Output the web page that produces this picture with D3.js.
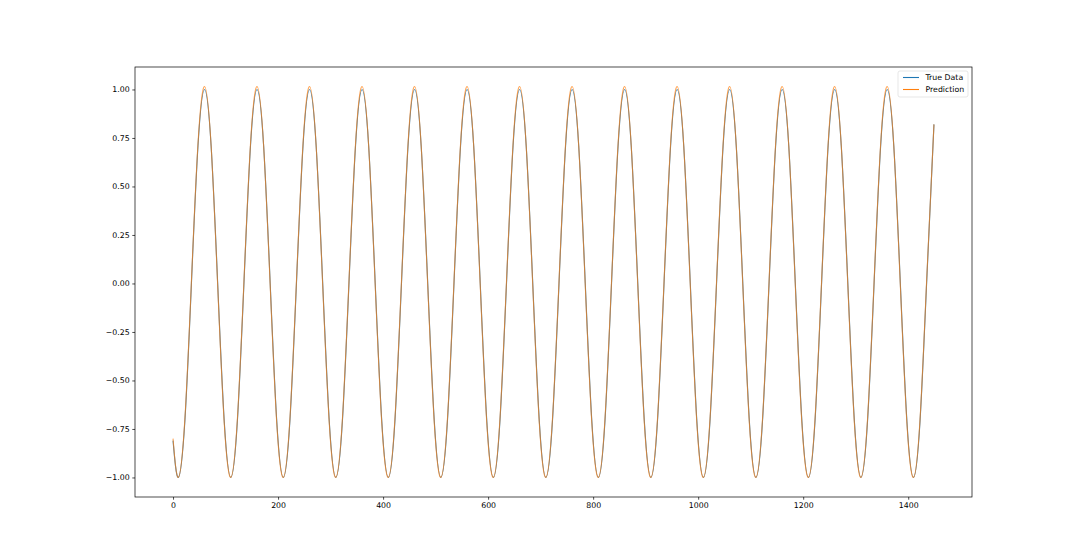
<!DOCTYPE html>
<html>
<head>
<meta charset="utf-8">
<script src="https://cdn.jsdelivr.net/npm/d3@7"></script>
<style>
  html, body { margin: 0; padding: 0; background: #fff; }
  svg { display: block; }
  text { font-family: "DejaVu Sans", sans-serif; }
</style>
</head>
<body>
<svg id="chart" width="1080" height="559"></svg>
<script>
// Time steps (x): start, then troughs / zero crossings / peaks and the points between them
const steps = [
  0,
  10, 22.5, 35, 47.5, 60, 72.5, 85, 97.5,
  110, 122.5, 135, 147.5, 160, 172.5, 185, 197.5,
  210, 222.5, 235, 247.5, 260, 272.5, 285, 297.5,
  310, 322.5, 335, 347.5, 360, 372.5, 385, 397.5,
  410, 422.5, 435, 447.5, 460, 472.5, 485, 497.5,
  510, 522.5, 535, 547.5, 560, 572.5, 585, 597.5,
  610, 622.5, 635, 647.5, 660, 672.5, 685, 697.5,
  710, 722.5, 735, 747.5, 760, 772.5, 785, 797.5,
  810, 822.5, 835, 847.5, 860, 872.5, 885, 897.5,
  910, 922.5, 935, 947.5, 960, 972.5, 985, 997.5,
  1010, 1022.5, 1035, 1047.5, 1060, 1072.5, 1085, 1097.5,
  1110, 1122.5, 1135, 1147.5, 1160, 1172.5, 1185, 1197.5,
  1210, 1222.5, 1235, 1247.5, 1260, 1272.5, 1285, 1297.5,
  1310, 1322.5, 1335, 1347.5, 1360, 1372.5, 1385, 1397.5,
  1410, 1422.5, 1435, 1449
];

const trueData = [
  -0.81,
  -1.00, -0.71, 0.00, 0.71, 1.00, 0.71, 0.00, -0.71,
  -1.00, -0.71, 0.00, 0.71, 1.00, 0.71, 0.00, -0.71,
  -1.00, -0.71, 0.00, 0.71, 1.00, 0.71, 0.00, -0.71,
  -1.00, -0.71, 0.00, 0.71, 1.00, 0.71, 0.00, -0.71,
  -1.00, -0.71, 0.00, 0.71, 1.00, 0.71, 0.00, -0.71,
  -1.00, -0.71, 0.00, 0.71, 1.00, 0.71, 0.00, -0.71,
  -1.00, -0.71, 0.00, 0.71, 1.00, 0.71, 0.00, -0.71,
  -1.00, -0.71, 0.00, 0.71, 1.00, 0.71, 0.00, -0.71,
  -1.00, -0.71, 0.00, 0.71, 1.00, 0.71, 0.00, -0.71,
  -1.00, -0.71, 0.00, 0.71, 1.00, 0.71, 0.00, -0.71,
  -1.00, -0.71, 0.00, 0.71, 1.00, 0.71, 0.00, -0.71,
  -1.00, -0.71, 0.00, 0.71, 1.00, 0.71, 0.00, -0.71,
  -1.00, -0.71, 0.00, 0.71, 1.00, 0.71, 0.00, -0.71,
  -1.00, -0.71, 0.00, 0.71, 1.00, 0.71, 0.00, -0.71,
  -1.00, -0.71, 0.00, 0.82
];

const prediction = [
  -0.80,
  -1.00, -0.70, 0.01, 0.72, 1.015, 0.71, -0.01, -0.72,
  -1.00, -0.70, 0.01, 0.72, 1.015, 0.71, -0.01, -0.72,
  -1.00, -0.70, 0.01, 0.72, 1.015, 0.71, -0.01, -0.72,
  -1.00, -0.70, 0.01, 0.72, 1.015, 0.71, -0.01, -0.72,
  -1.00, -0.70, 0.01, 0.72, 1.015, 0.71, -0.01, -0.72,
  -1.00, -0.70, 0.01, 0.72, 1.015, 0.71, -0.01, -0.72,
  -1.00, -0.70, 0.01, 0.72, 1.015, 0.71, -0.01, -0.72,
  -1.00, -0.70, 0.01, 0.72, 1.015, 0.71, -0.01, -0.72,
  -1.00, -0.70, 0.01, 0.72, 1.015, 0.71, -0.01, -0.72,
  -1.00, -0.70, 0.01, 0.72, 1.015, 0.71, -0.01, -0.72,
  -1.00, -0.70, 0.01, 0.72, 1.015, 0.71, -0.01, -0.72,
  -1.00, -0.70, 0.01, 0.72, 1.015, 0.71, -0.01, -0.72,
  -1.00, -0.70, 0.01, 0.72, 1.015, 0.71, -0.01, -0.72,
  -1.00, -0.70, 0.01, 0.72, 1.015, 0.71, -0.01, -0.72,
  -1.00, -0.70, 0.01, 0.82
];

const xTicks = [0, 200, 400, 600, 800, 1000, 1200, 1400];
const yTicks = [-1.00, -0.75, -0.50, -0.25, 0.00, 0.25, 0.50, 0.75, 1.00];
const seriesNames = ["True Data", "Prediction"];
const seriesColors = ["#1f77b4", "#ff7f0e"];

// Layout
const plot = { left: 135, right: 972, top: 67, bottom: 497 };

const svg = d3.select("#chart");

// Scales with matplotlib-like 5% margins
const xExt = d3.extent(steps);
const xPad = (xExt[1] - xExt[0]) * 0.05;
const yExt = d3.extent(trueData.concat(prediction));
const yPad = (yExt[1] - yExt[0]) * 0.05;

const x = d3.scaleLinear().domain([xExt[0] - xPad, xExt[1] + xPad]).range([plot.left, plot.right]);
const y = d3.scaleLinear().domain([yExt[0] - yPad, yExt[1] + yPad]).range([plot.bottom, plot.top]);

const fontSize = 7.8;
const tickLen = 2.7, tickPad = 2.7;
const fmtY = d3.format(".2f");

// Clip
svg.append("defs").append("clipPath").attr("id", "clip")
  .append("rect")
  .attr("x", plot.left).attr("y", plot.top)
  .attr("width", plot.right - plot.left).attr("height", plot.bottom - plot.top);

// Lines
const line = d3.line()
  .x(d => x(d[0]))
  .y(d => y(d[1]))
  .curve(d3.curveNatural);

const series = [trueData, prediction];
const g = svg.append("g").attr("clip-path", "url(#clip)");
series.forEach((vals, i) => {
  g.append("path")
    .datum(steps.map((s, j) => [s, vals[j]]))
    .attr("fill", "none")
    .attr("stroke", seriesColors[i])
    .attr("stroke-width", 1.1)
    .attr("stroke-opacity", i === 1 ? 0.7 : 0.9)
    .attr("stroke-linejoin", "round")
    .attr("d", line);
});

// Axes
const xAxis = d3.axisBottom(x).tickValues(xTicks).tickSize(tickLen).tickPadding(tickPad).tickFormat(d3.format("d"));
const yAxis = d3.axisLeft(y).tickValues(yTicks).tickSize(tickLen).tickPadding(tickPad).tickFormat(fmtY);

const gx = svg.append("g").attr("transform", `translate(0,${plot.bottom})`).call(xAxis);
const gy = svg.append("g").attr("transform", `translate(${plot.left},0)`).call(yAxis);

[gx, gy].forEach(a => {
  a.select(".domain").remove();
  a.selectAll(".tick line").attr("stroke", "#000").attr("stroke-width", 0.7);
  a.selectAll(".tick text").attr("fill", "#000").style("font-size", fontSize + "px")
    .style("font-family", "'DejaVu Sans', sans-serif");
});

// Spines
svg.append("rect")
  .attr("x", plot.left).attr("y", plot.top)
  .attr("width", plot.right - plot.left).attr("height", plot.bottom - plot.top)
  .attr("fill", "none").attr("stroke", "#000").attr("stroke-width", 0.7);

// Legend
const lg = svg.append("g");
const lgW = 70, lgH = 26;
const lgX = plot.right - 4 - lgW, lgY = plot.top + 4;
lg.append("rect")
  .attr("x", lgX).attr("y", lgY).attr("width", lgW).attr("height", lgH)
  .attr("rx", 2).attr("ry", 2)
  .attr("fill", "#fff").attr("fill-opacity", 0.8)
  .attr("stroke", "#ddd").attr("stroke-width", 0.7);

seriesNames.forEach((name, i) => {
  const cy = lgY + 6.5 + i * 12;
  lg.append("line")
    .attr("x1", lgX + 5).attr("x2", lgX + 21)
    .attr("y1", cy).attr("y2", cy)
    .attr("stroke", seriesColors[i]).attr("stroke-width", 1.1);
  lg.append("text")
    .attr("x", lgX + 27.5).attr("y", cy)
    .attr("dy", "0.35em")
    .style("font-size", fontSize + "px")
    .attr("fill", "#000")
    .text(name);
});
</script>
</body>
</html>
